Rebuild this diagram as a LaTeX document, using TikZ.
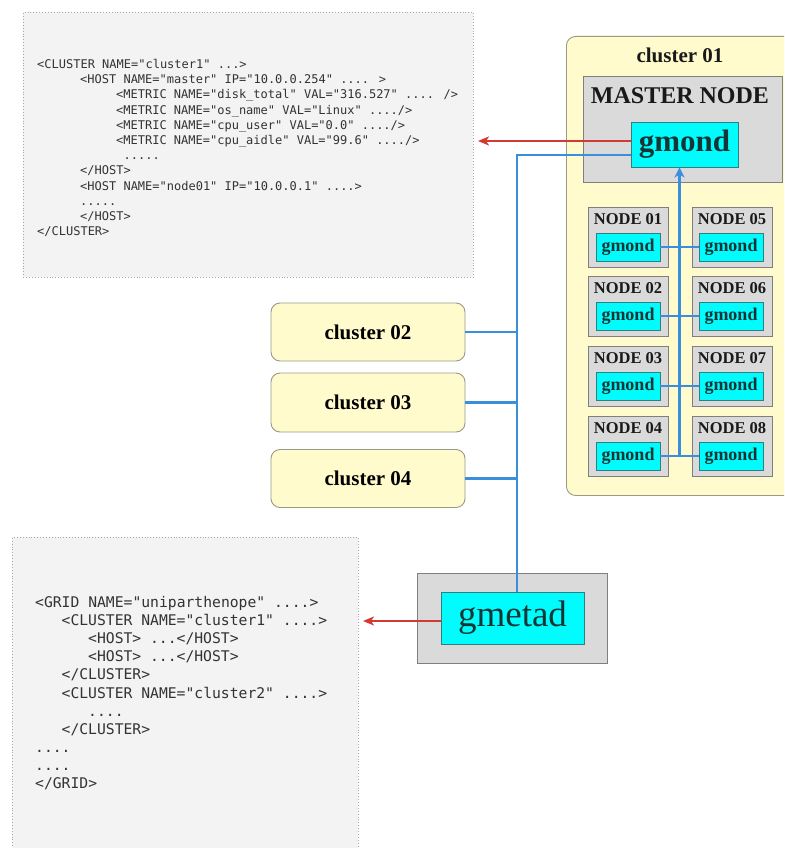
\documentclass[tikz,border=0pt]{standalone}
\usepackage{fontspec}
\setmainfont{Liberation Serif}
\newfontfamily\codefont{DejaVu Sans Mono}
\usetikzlibrary{arrows.meta,calc}

\definecolor{codebg}{HTML}{F3F3F3}
\definecolor{codeframe}{HTML}{A8A8A8}
\definecolor{codeink}{HTML}{333333}
\definecolor{clusterbg}{HTML}{FFFBCC}
\definecolor{clusterframe}{HTML}{9A9A88}
\definecolor{hostbg}{HTML}{DADADA}
\definecolor{hostframe}{HTML}{7F7F7F}
\definecolor{daemonbg}{HTML}{00FCFC}
\definecolor{daemonframe}{HTML}{2E8080}
\definecolor{daemonink}{HTML}{123636}
\definecolor{linkblue}{HTML}{3A8FDD}
\definecolor{linkred}{HTML}{D43A34}

\tikzset{
  codebox/.style={draw=codeframe, fill=codebg, dotted, line width=0.9, inner sep=0},
  clusterbox/.style={draw=clusterframe, fill=clusterbg, rounded corners=9, line width=0.9, inner sep=0},
  hostbox/.style={draw=hostframe, fill=hostbg, line width=0.9, inner sep=0},
  daemon/.style={draw=daemonframe, fill=daemonbg, line width=0.9, inner sep=0, text=daemonink},
  title/.style={inner sep=0, text=black!90},
  topcode/.style={anchor=base west, inner sep=0, text=codeink, font=\codefont\fontsize{12}{14}\selectfont},
  gridcode/.style={anchor=base west, inner sep=0, text=codeink, font=\codefont\fontsize{14.7}{17}\selectfont},
  blueline/.style={draw=linkblue, line width=2.2},
  bluearrow/.style={blueline, -{Stealth[length=10pt,width=10pt,inset=3pt]}},
  redarrow/.style={draw=linkred, line width=2, -{Stealth[length=11pt,width=9pt,inset=3pt]}},
}

\begin{document}
\begin{tikzpicture}[x=1pt,y=-1pt]
\useasboundingbox (0,0) rectangle (784,848);
\clip (0,0) rectangle (784,848);
\fill[white] (0,0) rectangle (784,848);

% ---------- XML produced by gmond ----------
\node[codebox, anchor=north west, minimum width=450, minimum height=265] (xmlhost) at (23,12) {};
\foreach \x/\y/\t in {
  37/68.5/{<CLUSTER NAME="cluster1" ...>},
  80/83.7/{<HOST NAME="master" IP="10.0.0.254" .... >},
  116/98.9/{<METRIC NAME="disk\_total" VAL="316.527" .... />},
  116/114.1/{<METRIC NAME="os\_name" VAL="Linux" ..../>},
  116/129.3/{<METRIC NAME="cpu\_user" VAL="0.0" ..../>},
  116/144.5/{<METRIC NAME="cpu\_aidle" VAL="99.6" ..../>},
  123.5/159.7/{.....},
  80/174.9/{</HOST>},
  80/190.1/{<HOST NAME="node01" IP="10.0.0.1" ....>},
  80/205.3/{.....},
  80/220.5/{</HOST>},
  37/235.7/{</CLUSTER>}}
  \node[topcode] at (\x,\y) {\t};

% ---------- XML produced by gmetad ----------
\node[codebox, anchor=north west, minimum width=346, minimum height=340] (xmlgrid) at (12,537) {};
\foreach \x/\y/\t in {
  35/607.5/{<GRID NAME="uniparthenope" ....>},
  61.5/625.6/{<CLUSTER NAME="cluster1" ....>},
  88/643.7/{<HOST> ...</HOST>},
  88/661.8/{<HOST> ...</HOST>},
  61.5/679.9/{</CLUSTER>},
  61.5/698.0/{<CLUSTER NAME="cluster2" ....>},
  88/716.1/{....},
  61.5/734.2/{</CLUSTER>},
  35/752.3/{....},
  35/770.4/{....},
  35/788.5/{</GRID>}}
  \node[gridcode] at (\x,\y) {\t};

% ---------- cluster 01 ----------
\node[clusterbox, anchor=north west, minimum width=240, minimum height=459] (c1) at (566,36) {};
\node[title, font=\fontsize{21}{24}\selectfont\bfseries] (c1name) at (680,55) {cluster 01};

\node[hostbox, minimum width=199, minimum height=106] (master) at (682.5,129) {};
\node[title, font=\fontsize{24}{28}\selectfont\bfseries] (mastername) at (680,95.5) {MASTER NODE};
\node[daemon, minimum width=107, minimum height=45, font=\fontsize{31}{34}\selectfont\bfseries] (mg) at (684.5,144.5) {gmond};

% compute nodes: left column 01-04, right column 05-08
\foreach \i/\j/\top in {1/5/207, 2/6/276, 3/7/346, 4/8/416} {
  \node[hostbox, minimum width=80, minimum height=60] (n\i) at (628,\top+30) {};
  \node[hostbox, minimum width=80, minimum height=60] (n\j) at (732,\top+30) {};
  \node[title, font=\fontsize{16.5}{19}\selectfont\bfseries] (l\i) at (628,\top+12.5) {NODE 0\i};
  \node[title, font=\fontsize{16.5}{19}\selectfont\bfseries] (l\j) at (732,\top+12.5) {NODE 0\j};
  \node[daemon, minimum width=64, minimum height=28, font=\fontsize{18}{20}\selectfont\bfseries] (g\i) at (628,\top+40) {gmond};
  \node[daemon, minimum width=64, minimum height=28, font=\fontsize{18}{20}\selectfont\bfseries] (g\j) at (731,\top+40) {gmond};
}

% ---------- other clusters ----------
\node[clusterbox, minimum width=194, minimum height=58, font=\fontsize{21}{24}\selectfont\bfseries] (c2) at (368,332) {cluster 02};
\node[clusterbox, minimum width=194, minimum height=59, font=\fontsize{21}{24}\selectfont\bfseries] (c3) at (368,402.5) {cluster 03};
\node[clusterbox, minimum width=194, minimum height=58, font=\fontsize{21}{24}\selectfont\bfseries] (c4) at (368,478.5) {cluster 04};

% ---------- gmetad host ----------
\node[hostbox, minimum width=190, minimum height=90] (meta) at (512,618) {};
\node[daemon, minimum width=143, minimum height=52, font=\fontsize{37}{40}\selectfont] (gmetad) at (512.5,618) {gmetad};

% ---------- links ----------
\coordinate (trunk) at (517,155);
\coordinate (hub) at ($(g4.east)!0.5!(g8.west)$);
\coordinate (hostin) at (478,141);
\coordinate (gridin) at (363,621);

\foreach \i/\j in {1/5, 2/6, 3/7, 4/8}
  \draw[blueline] (g\i.east) -- (g\j.west);
\draw[blueline] (hub) -- (hub |- g1.east);
\draw[bluearrow] (hub) -- (hub |- mg.south);

\draw[blueline] ([yshift=-10.5pt]mg.west) -- (trunk) -- (trunk |- gmetad.north);
\foreach \c in {c2, c3, c4}
  \draw[blueline] (\c.east) -- (\c.east -| trunk);

\draw[redarrow] ([yshift=3.5pt]mg.west) -- (hostin);
\draw[redarrow] ([yshift=-3pt]gmetad.west) -- (gridin);
\end{tikzpicture}
\end{document}
